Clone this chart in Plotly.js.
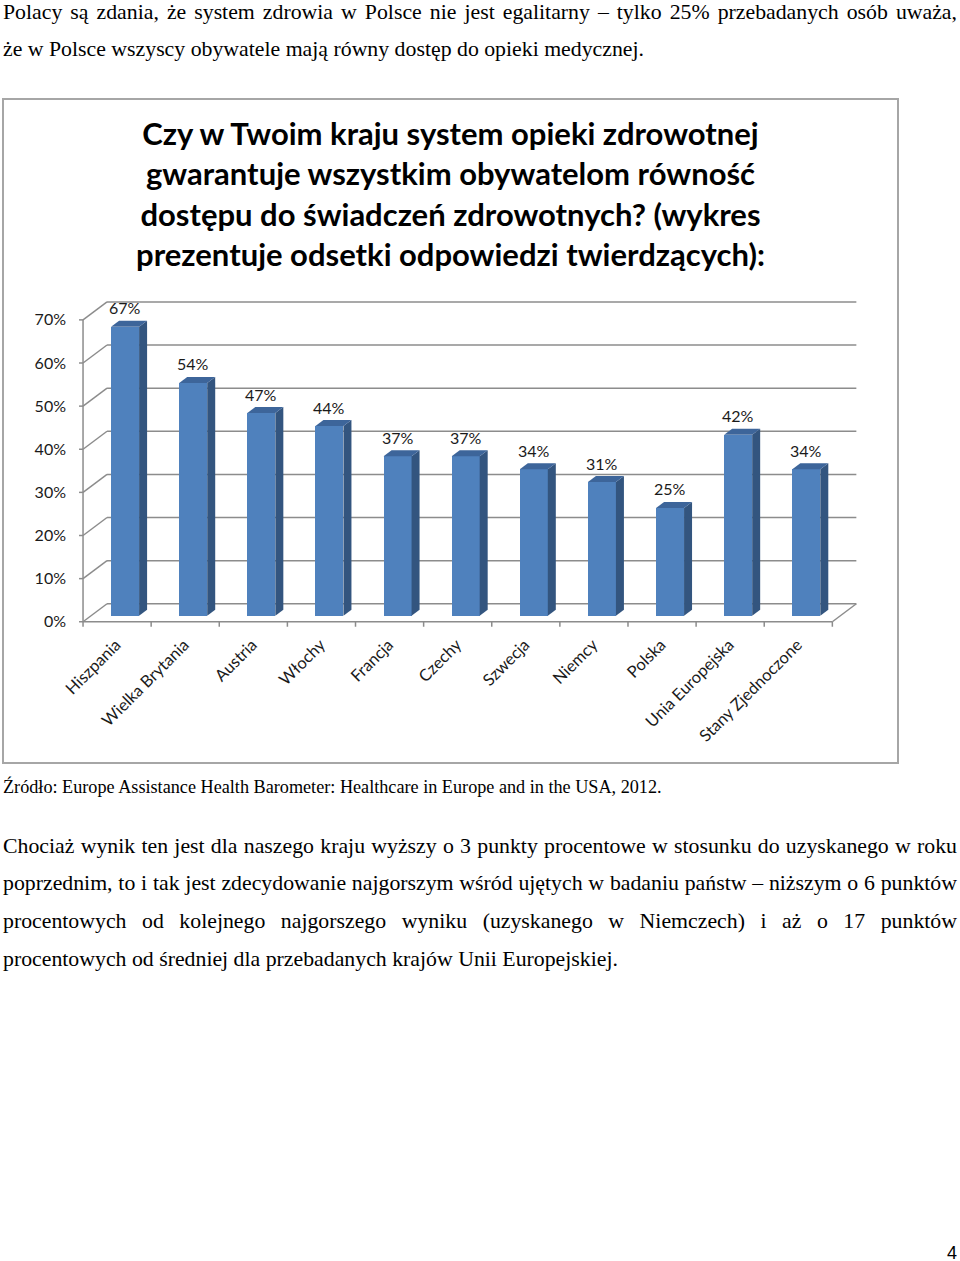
<!DOCTYPE html>
<html>
<head>
<meta charset="utf-8">
<script src="https://cdn.plot.ly/plotly-3.0.1.min.js"></script>
<style>
  html, body { margin: 0; padding: 0; background: #fff; }
  body { width: 960px; height: 1261px; position: relative; overflow: hidden; }
  .t { position: absolute; font-family: "Liberation Serif", "Times New Roman", serif; color: #000; white-space: nowrap; }
  .j { text-align: justify; text-align-last: justify; white-space: normal; }
  #chartbox { position: absolute; left: 3px; top: 99px; width: 895px; height: 664px; }
  #frame { position: absolute; left: 2px; top: 98px; width: 893px; height: 662px; border: 2px solid #a6a6a6; pointer-events: none; }
</style>
</head>
<body>
<div class="t j" style="left:3px; top:0px; width:954px; font-size:21.8px; line-height:24px;">Polacy są zdania, że system zdrowia w Polsce nie jest egalitarny – tylko 25% przebadanych osób uważa,</div>
<div class="t" style="left:3px; top:37px; font-size:21.8px; line-height:24px;">że w Polsce wszyscy obywatele mają równy dostęp do opieki medycznej.</div>

<div id="chartbox"></div>
<div id="frame"></div>

<div class="t" style="left:3px; top:776px; font-size:18.2px; line-height:22px;">Źródło: Europe Assistance Health Barometer: Healthcare in Europe and in the USA, 2012.</div>

<div class="t j" style="left:3px; top:834px; width:954px; font-size:21.8px; line-height:24px;">Chociaż wynik ten jest dla naszego kraju wyższy o 3 punkty procentowe w stosunku do uzyskanego w roku</div>
<div class="t j" style="left:3px; top:871px; width:954px; font-size:21.8px; line-height:24px;">poprzednim, to i tak jest zdecydowanie najgorszym wśród ujętych w badaniu państw – niższym o 6 punktów</div>
<div class="t j" style="left:3px; top:909px; width:954px; font-size:21.8px; line-height:24px;">procentowych od kolejnego najgorszego wyniku (uzyskanego w Niemczech) i aż o 17 punktów</div>
<div class="t" style="left:3px; top:947px; font-size:21.8px; line-height:24px;">procentowych od średniej dla przebadanych krajów Unii Europejskiej.</div>

<div class="t" style="left:947px; top:1242px; font-family:'Liberation Sans', Arial, sans-serif; font-size:18px; line-height:22px;">4</div>

<script>
// ---- data ----
const categories = ["Hiszpania", "Wielka Brytania", "Austria", "Włochy", "Francja", "Czechy",
                    "Szwecja", "Niemcy", "Polska", "Unia Europejska", "Stany Zjednoczone"];
const values = [67, 54, 47, 44, 37, 37, 34, 31, 25, 42, 34];
const yTickValues = [0, 10, 20, 30, 40, 50, 60, 70];
const yTickLabels = ["0%", "10%", "20%", "30%", "40%", "50%", "60%", "70%"];
const chartTitle = "Czy w Twoim kraju system opieki zdrowotnej<br>gwarantuje wszystkim obywatelom równość<br>dostępu do świadczeń zdrowotnych? (wykres<br>prezentuje odsetki odpowiedzi twierdzących):";

// ---- geometry ----
const W = 895, H = 664;
const M = {l: 71, r: 27, t: 189, b: 130};
const XR = [-0.75, 10.95], YR = [-4, 76];
const pxX = (W - M.l - M.r) / (XR[1] - XR[0]);   // px per category unit
const pxY = (H - M.t - M.b) / (YR[1] - YR[0]);   // px per percent
const FRONT = {dx: -8 / pxX, dy: -6 / pxY};
const BACK  = {dx: 16 / pxX, dy: 12 / pxY};
const BW = 28 / pxX;                 // bar width
const DEP = {dx: 8 / pxX, dy: 6 / pxY}; // bar depth
const gridColor = "#8c8c8c";
const xs = categories.map((c, i) => i);
const n = categories.length;
const L = -0.5, R = n - 0.5;

const shapes = [];
function line(x0, y0, x1, y1, layer) {
  shapes.push({type: "line", xref: "x", yref: "y", x0, y0, x1, y1, layer: layer || "below",
               line: {color: gridColor, width: 1.5}});
}
// back wall gridlines and left wall diagonals
yTickValues.forEach(t => {
  line(L + BACK.dx, t + BACK.dy, R + BACK.dx, t + BACK.dy);
  line(L + FRONT.dx, t + FRONT.dy, L + BACK.dx, t + BACK.dy);
  line(L + FRONT.dx - 4 / pxX, t + FRONT.dy, L + FRONT.dx, t + FRONT.dy);
});
// front vertical axis
line(L + FRONT.dx, FRONT.dy, L + FRONT.dx, yTickValues[yTickValues.length - 1] + FRONT.dy);
// floor front edge and right edge
line(L + FRONT.dx, FRONT.dy, R + FRONT.dx, FRONT.dy);
line(R + FRONT.dx, FRONT.dy, R + BACK.dx, BACK.dy);
// category tick marks
for (let k = 0; k <= n; k++) {
  const x = L + k + FRONT.dx;
  line(x, FRONT.dy, x, FRONT.dy - 5 / pxY);
}
// 3D faces of bars
function path(pts) { return "M" + pts.map(p => p[0] + "," + p[1]).join("L") + "Z"; }
xs.forEach((x, i) => {
  const v = values[i];
  const xr = x + BW / 2, xl = x - BW / 2;
  shapes.push({type: "path", xref: "x", yref: "y", layer: "above", line: {width: 0},
    fillcolor: "#33557f",
    path: path([[xr, 0], [xr + DEP.dx, DEP.dy], [xr + DEP.dx, v + DEP.dy], [xr, v]])});
  shapes.push({type: "path", xref: "x", yref: "y", layer: "above", line: {width: 0},
    fillcolor: "#3d659a",
    path: path([[xl, v], [xr, v], [xr + DEP.dx, v + DEP.dy], [xl + DEP.dx, v + DEP.dy]])});
});

const annotations = xs.map((x, i) => ({
  x: x, y: values[i], xref: "x", yref: "y", text: values[i] + "%", showarrow: false,
  yanchor: "middle", yshift: 19, font: {family: "Lato, Calibri, sans-serif", size: 16, color: "#1a1a1a"}
}));

const trace = {
  type: "bar", x: xs, y: values, width: BW,
  marker: {color: "#4f81bd", line: {width: 0}},
  hoverinfo: "skip", showlegend: false
};

const layout = {
  width: W, height: H, margin: {l: M.l, r: M.r, t: M.t, b: M.b, pad: 0},
  paper_bgcolor: "#fff", plot_bgcolor: "rgba(0,0,0,0)",
  title: {text: chartTitle, x: 0.5, xanchor: "center", xref: "container",
          y: 1 - 46 / H, yanchor: "top", yref: "container",
          font: {family: "Lato, Calibri, sans-serif", size: 31, color: "#000", weight: "bold"}},
  xaxis: {range: XR, tickvals: xs, ticktext: categories, tickangle: -45, showgrid: false,
          zeroline: false, showline: false, ticks: "", ticklabelshift: -9, ticklabelstandoff: -2,
          tickfont: {family: "Lato, Calibri, sans-serif", size: 16.5, color: "#1a1a1a"}, fixedrange: true},
  yaxis: {range: YR, tickvals: yTickValues, ticktext: yTickLabels, showgrid: false,
          zeroline: false, showline: false, ticks: "", ticklabelshift: 6, ticklabelstandoff: 7,
          tickfont: {family: "Lato, Calibri, sans-serif", size: 16, color: "#1a1a1a"}, fixedrange: true},
  shapes: shapes, annotations: annotations, bargap: 0
};

Plotly.newPlot("chartbox", [trace], layout, {displayModeBar: false, staticPlot: true});
</script>
</body>
</html>
